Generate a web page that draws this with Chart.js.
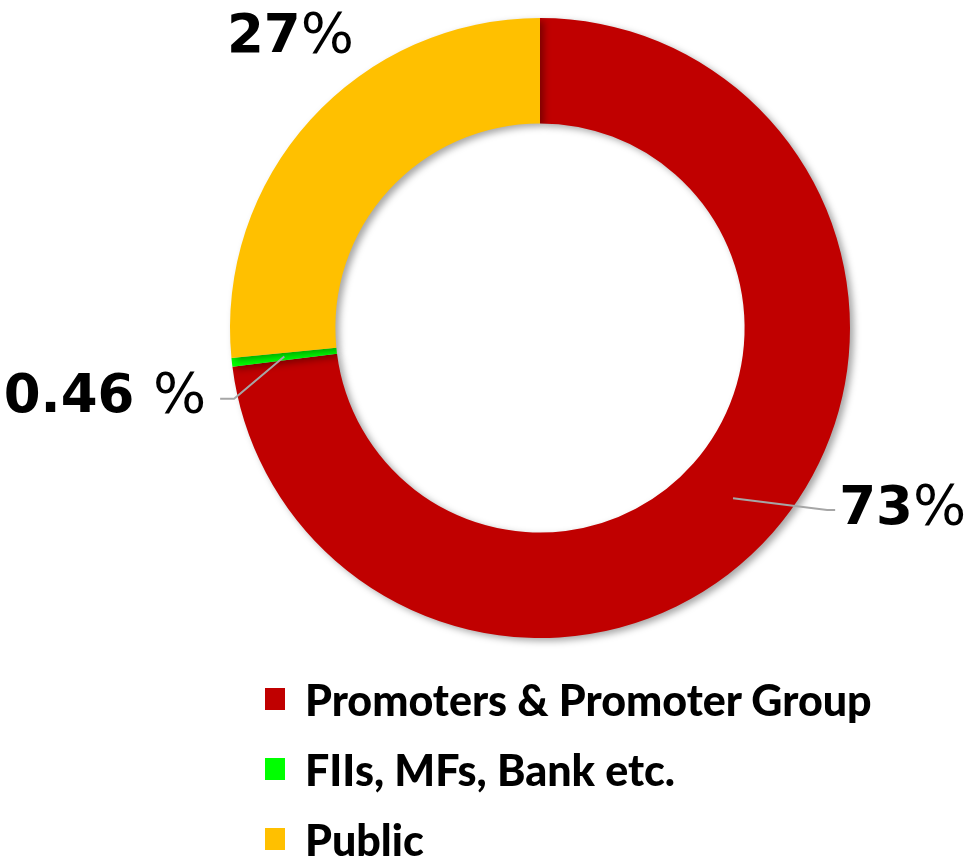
<!DOCTYPE html>
<html lang="en">
<head>
    <meta charset="UTF-8">
    <title>Shareholding Pattern</title>
    <script src="https://cdn.jsdelivr.net/npm/chart.js"></script>
    <style>
        html, body {
            margin: 0;
            padding: 0;
            background: #ffffff;
        }
        .wrap {
            position: relative;
            width: 971px;
            height: 856px;
        }
        #legend {
            position: absolute;
            left: 265px;
            top: 664px;
            margin: 0;
            padding: 0;
            list-style: none;
            font-family: Lato, "Liberation Sans", sans-serif;
            font-weight: 900;
            font-size: 43px;
            color: #000;
        }
        #legend li {
            display: flex;
            align-items: center;
            height: 70px;
            white-space: nowrap;
        }
        #legend span.box {
            display: inline-block;
            width: 20px;
            height: 22px;
            margin-right: 20px;
        }
    </style>
</head>
<body>
    <div class="wrap">
        <canvas id="shareChart" width="971" height="856"></canvas>
        <ul id="legend"></ul>
    </div>

    <script>
        const categories = ["Promoters & Promoter Group", "FIIs, MFs, Bank etc.", "Public"];
        const shares = [73, 0.46, 26.54];
        const shareLabels = ["73", "0.46 ", "27"];
        const colours = ["#C00000", "#00FF00", "#FFC000"];

        // where each value label sits, relative to the doughnut centre (in radii)
        const labelSpots = [
            { dx: 0.965, dy: 0.632, align: "left", leader: true },
            { dx: -1.077, dy: 0.27, align: "right", leader: true },
            { dx: -1.01, dy: -0.89, align: "left", leader: false }
        ];

        const shadowPlugin = {
            id: "ringShadow",
            beforeDatasetsDraw(chart) {
                const ctx = chart.ctx;
                ctx.save();
                ctx.shadowColor = "rgba(0,0,0,0.35)";
                ctx.shadowBlur = 7;
                ctx.shadowOffsetX = 4;
                ctx.shadowOffsetY = 3;
            },
            afterDatasetsDraw(chart) {
                chart.ctx.restore();
            }
        };

        const labelPlugin = {
            id: "valueLabels",
            afterDraw(chart) {
                const ctx = chart.ctx;
                const meta = chart.getDatasetMeta(0);
                meta.data.forEach((arc, i) => {
                    const spot = labelSpots[i];
                    const r = arc.outerRadius;
                    const x = arc.x + spot.dx * r;
                    const y = arc.y + spot.dy * r;
                    const mid = arc.tooltipPosition();

                    if (spot.leader) {
                        ctx.save();
                        ctx.strokeStyle = "#A6A6A6";
                        ctx.lineWidth = 2;
                        ctx.beginPath();
                        ctx.moveTo(mid.x, mid.y);
                        if (spot.align === "left") {
                            ctx.lineTo(x - 12, y - 14);
                            ctx.lineTo(x - 4, y - 14);
                        } else {
                            ctx.lineTo(x + 28, y - 13);
                            ctx.lineTo(x + 14, y - 13);
                        }
                        ctx.stroke();
                        ctx.restore();
                    }

                    ctx.save();
                    ctx.fillStyle = "#000";
                    ctx.textBaseline = "alphabetic";
                    const numFont = "bold 53px 'DejaVu Sans', sans-serif";
                    const pctFont = "normal 56px 'DejaVu Sans', sans-serif";
                    ctx.font = numFont;
                    const numW = ctx.measureText(shareLabels[i]).width;
                    ctx.font = pctFont;
                    const pctW = ctx.measureText("%").width;
                    const left = spot.align === "left" ? x : x - numW - pctW;
                    ctx.font = numFont;
                    ctx.fillText(shareLabels[i], left, y);
                    ctx.font = pctFont;
                    ctx.fillText("%", left + numW, y);
                    ctx.restore();
                });
            }
        };

        const ctx = document.getElementById("shareChart").getContext("2d");
        const chart = new Chart(ctx, {
            type: "doughnut",
            data: {
                labels: categories,
                datasets: [{
                    data: shares,
                    backgroundColor: colours,
                    borderWidth: 0,
                    hoverOffset: 0
                }]
            },
            options: {
                responsive: false,
                animation: false,
                cutout: "66%",
                rotation: 0,
                layout: {
                    padding: { top: 18, bottom: 218, left: 229, right: 120 }
                },
                plugins: {
                    legend: { display: false },
                    tooltip: { enabled: false }
                }
            },
            plugins: [shadowPlugin, labelPlugin]
        });

        const legend = document.getElementById("legend");
        categories.forEach((name, i) => {
            const li = document.createElement("li");
            const box = document.createElement("span");
            box.className = "box";
            box.style.background = colours[i];
            li.appendChild(box);
            li.appendChild(document.createTextNode(name));
            legend.appendChild(li);
        });
    </script>
</body>
</html>
